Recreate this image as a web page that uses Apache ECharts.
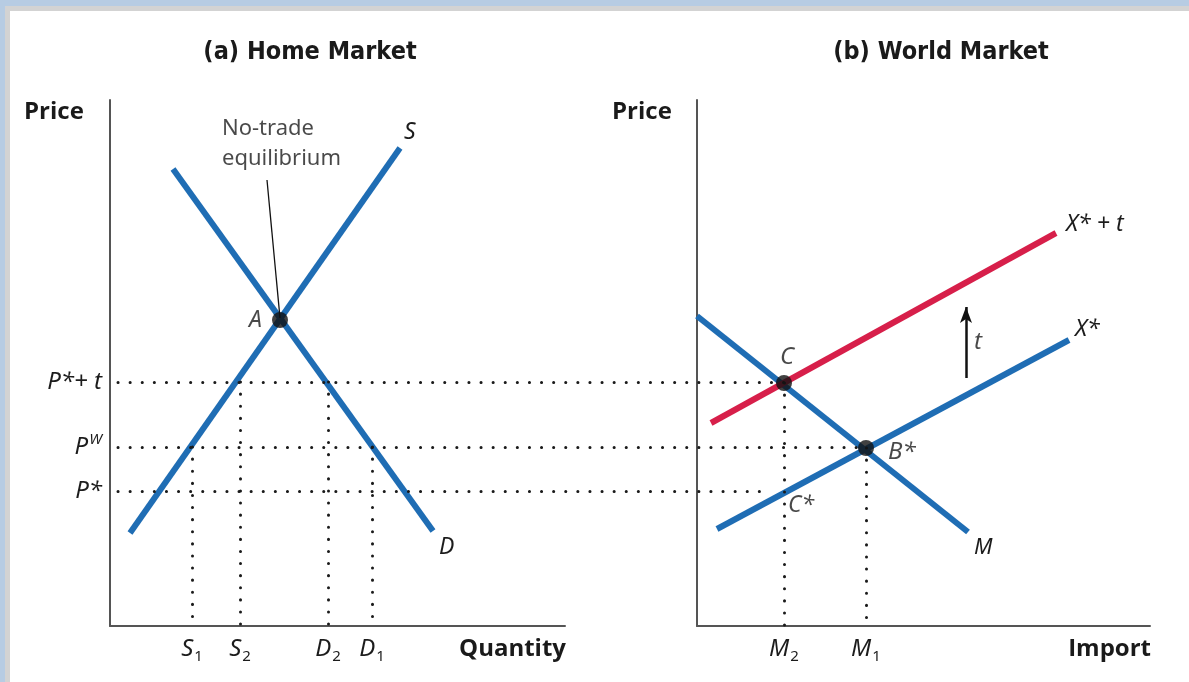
<!DOCTYPE html>
<html><head><meta charset="utf-8">
<script src="https://cdn.jsdelivr.net/npm/echarts@6/dist/echarts.min.js"></script>
<style>html,body{margin:0;padding:0;background:#fff}#c{width:1189px;height:682px}</style>
</head><body><div id="c"></div><script>
// ---- (a) Home market data (panel units) ----
const supplyS = [[20, 93], [290, 478]];
const demandD = [[63, 457], [323, 95]];
const pointA = [170, 306];
const priceTicks = [135, 179, 244];
const priceTickLabels = ['{i|P*}', '{i|P}{sup|W}', '{i|P*+ t}'];
const homeQtyTicks = [82, 130, 218, 262];
const homeQtyLabels = ['{i|S}{sub|1}', '{i|S}{sub|2}', '{i|D}{sub|2}', '{i|D}{sub|1}'];
const homeQtyTickPrice = [179, 244, 244, 179];
const noTradePointer = [[157, 446], [170, 308]];
// ---- (b) World market data (panel units) ----
const importM = [[0, 310], [271, 94]];
const exportX = [[20, 97], [372, 286]];
const exportXt = [[14, 203], [359, 393]];
const pointC = [87, 243];
const pointB = [169, 178];
const pointCstar = [87, 135];
const worldQtyTicks = [87, 169];
const worldQtyLabels = ['{i|M}{sub|2}', '{i|M}{sub|1}'];
const worldQtyTickPrice = [243, 178];
const tariffArrow = [[269, 248], [269, 319]];
// price guide lines: [price, end x in world panel]
const priceGuides = [[244, 87], [179, 169], [135, 73]];

const BLUE = '#1f6db4', RED = '#d71f4a', INK = '#1a1a1a';
const RIGHT_OFFSET = 587; // world panel origin in overlay units
const GUIDE_START = 8;
const italic = 'Noto Sans';
const TXT = '#1c1c1c';
const rich = {
  i: {fontFamily: italic, fontStyle: 'italic', fontSize: 24, color: TXT, lineHeight: 30},
  sub: {fontFamily: italic, fontSize: 15, color: TXT, verticalAlign: 'bottom', lineHeight: 30, padding: [12, 0, 0, 1]},
  sup: {fontFamily: italic, fontStyle: 'italic', fontSize: 15, color: TXT, verticalAlign: 'top', lineHeight: 30, padding: [0, 0, 12, 1]}
};
const dotted = {color: INK, width: 3, type: [0.1, 12], cap: 'round', opacity: 1};
function mapLabel(ticks, labels) { return v => { const k = ticks.indexOf(v); return k < 0 ? '' : labels[k]; }; }
function segs(pairs) { return pairs.map(p => [{coord: p[0]}, {coord: p[1]}]); }
const lab = (fs, extra) => Object.assign({fontFamily: italic, fontStyle: 'italic', fontSize: fs || 23, color: TXT}, extra || {});

const axisLine = {show: true, lineStyle: {color: '#555', width: 2}};
const chart = echarts.init(document.getElementById('c'));
chart.setOption({
  animation: false,
  grid: [
    {left: 110, top: 100, width: 455, height: 526},
    {left: 697, top: 100, width: 453, height: 526},
    {left: 110, top: 100, width: 1040, height: 526}
  ],
  xAxis: [
    {gridIndex: 0, type: 'value', min: 0, max: 455, axisLine, axisTick: {show: false}, splitLine: {show: false},
     axisLabel: {customValues: homeQtyTicks, formatter: mapLabel(homeQtyTicks, homeQtyLabels), rich, margin: 8}},
    {gridIndex: 1, type: 'value', min: 0, max: 453, axisLine, axisTick: {show: false}, splitLine: {show: false},
     axisLabel: {customValues: worldQtyTicks, formatter: mapLabel(worldQtyTicks, worldQtyLabels), rich, margin: 8}},
    {gridIndex: 2, type: 'value', min: 0, max: 1040, show: false}
  ],
  yAxis: [
    {gridIndex: 0, type: 'value', min: 0, max: 526, axisLine, axisTick: {show: false}, splitLine: {show: false},
     axisLabel: {customValues: priceTicks, formatter: mapLabel(priceTicks, priceTickLabels), rich, margin: 8}},
    {gridIndex: 1, type: 'value', min: 0, max: 526, axisLine, axisTick: {show: false}, splitLine: {show: false}, axisLabel: {show: false}},
    {gridIndex: 2, type: 'value', min: 0, max: 526, show: false}
  ],
  graphic: [
    {type: 'rect', z: -10, silent: true, shape: {x: 0, y: 0, width: 1189, height: 682}, style: {fill: '#b7cce3'}},
    {type: 'rect', z: -9, silent: true, shape: {x: 5, y: 6, width: 1184, height: 676}, style: {fill: '#d3d3d3'}},
    {type: 'rect', z: -8, silent: true, shape: {x: 10, y: 11, width: 1179, height: 671}, style: {fill: '#fff'}},
    {type: 'text', x: 310, y: 52, style: {text: '(a) Home Market', font: 'bold 25px "DejaVu Sans Condensed"', fill: '#1a1a1a', textAlign: 'center', textVerticalAlign: 'middle'}},
    {type: 'text', x: 941, y: 52, style: {text: '(b) World Market', font: 'bold 25px "DejaVu Sans Condensed"', fill: '#1a1a1a', textAlign: 'center', textVerticalAlign: 'middle'}},
    {type: 'text', x: 24, y: 112, style: {text: 'Price', font: 'bold 24px "Open Sans"', fill: '#1a1a1a', textVerticalAlign: 'middle'}},
    {type: 'text', x: 612, y: 112, style: {text: 'Price', font: 'bold 24px "Open Sans"', fill: '#1a1a1a', textVerticalAlign: 'middle'}},
    {type: 'text', x: 566, y: 649, style: {text: 'Quantity', font: 'bold 24px "Open Sans"', fill: '#1a1a1a', textAlign: 'right', textVerticalAlign: 'middle'}},
    {type: 'text', x: 1151, y: 649, style: {text: 'Import', font: 'bold 24px "Open Sans"', fill: '#1a1a1a', textAlign: 'right', textVerticalAlign: 'middle'}}
  ],
  series: [
    // overlay price guides
    {type: 'line', xAxisIndex: 2, yAxisIndex: 2, data: [], z: 1,
     markLine: {silent: true, symbol: 'none', label: {show: false}, lineStyle: dotted,
       data: segs(priceGuides.map(g => [[GUIDE_START, g[0]], [g[1] + RIGHT_OFFSET, g[0]]]))}},
    // home verticals
    {type: 'line', xAxisIndex: 0, yAxisIndex: 0, data: [], z: 1,
     markLine: {silent: true, symbol: 'none', label: {show: false}, lineStyle: dotted,
       data: segs(homeQtyTicks.map((q, k) => [[q, homeQtyTickPrice[k]], [q, 0]]))}},
    // world verticals
    {type: 'line', xAxisIndex: 1, yAxisIndex: 1, data: [], z: 1,
     markLine: {silent: true, symbol: 'none', label: {show: false}, lineStyle: dotted,
       data: segs(worldQtyTicks.map((q, k) => [[q, worldQtyTickPrice[k]], [q, 0]]))}},
    // supply S
    {type: 'line', xAxisIndex: 0, yAxisIndex: 0, data: supplyS, symbol: 'none', z: 3,
     lineStyle: {color: BLUE, width: 6}, endLabel: {show: true, formatter: 'S', offset: [-4, -16], ...lab(23)}},
    // demand D
    {type: 'line', xAxisIndex: 0, yAxisIndex: 0, data: demandD, symbol: 'none', z: 3,
     lineStyle: {color: BLUE, width: 6}, endLabel: {show: true, formatter: 'D', offset: [-2, 16], ...lab(23)}},
    // no-trade pointer
    {type: 'line', xAxisIndex: 0, yAxisIndex: 0, data: [], z: 4,
     markLine: {silent: true, symbol: 'none', label: {show: false}, lineStyle: {color: '#111', width: 1.3, type: 'solid'},
       data: segs([noTradePointer])}},
    {type: 'scatter', xAxisIndex: 0, yAxisIndex: 0, data: [noTradePointer[0]], symbolSize: 0, z: 4,
     label: {show: true, position: 'top', distance: 6, formatter: 'No-trade\nequilibrium', fontFamily: 'Noto Sans', fontSize: 22, lineHeight: 30, color: TXT, offset: [-45, 0], align: 'left'}},
    // point A
    {type: 'scatter', xAxisIndex: 0, yAxisIndex: 0, data: [pointA], symbolSize: 16, itemStyle: {color: '#111'}, z: 5,
     label: {show: true, position: 'left', distance: 10, formatter: 'A', ...lab(23)}},
    // world M
    {type: 'line', xAxisIndex: 1, yAxisIndex: 1, data: importM, symbol: 'none', z: 3,
     lineStyle: {color: BLUE, width: 6}, endLabel: {show: true, formatter: 'M', offset: [-2, 16], ...lab(22)}},
    // world X*
    {type: 'line', xAxisIndex: 1, yAxisIndex: 1, data: exportX, symbol: 'none', z: 3,
     lineStyle: {color: BLUE, width: 6}, endLabel: {show: true, formatter: 'X*', offset: [-2, -11], ...lab(23)}},
    // world X*+t
    {type: 'line', xAxisIndex: 1, yAxisIndex: 1, data: exportXt, symbol: 'none', z: 3,
     lineStyle: {color: RED, width: 6}, endLabel: {show: true, formatter: 'X* + t', offset: [2, -9], ...lab(23)}},
    // tariff arrow
    {type: 'line', xAxisIndex: 1, yAxisIndex: 1, data: [], z: 4,
     markLine: {silent: true, symbol: ['none', 'arrow'], symbolSize: [9, 16], label: {show: false},
       lineStyle: {color: '#111', width: 2.5, type: 'solid'}, data: segs([tariffArrow])}},
    {type: 'scatter', xAxisIndex: 1, yAxisIndex: 1, data: [[tariffArrow[0][0], (tariffArrow[0][1] + tariffArrow[1][1]) / 2]], symbolSize: 0, z: 4,
     label: {show: true, position: 'right', distance: 8, formatter: 't', ...lab(24)}},
    // points C, B*
    {type: 'scatter', xAxisIndex: 1, yAxisIndex: 1, data: [pointC], symbolSize: 16, itemStyle: {color: '#111'}, z: 5,
     label: {show: true, position: 'top', distance: 6, offset: [3, 0], formatter: 'C', ...lab(24)}},
    {type: 'scatter', xAxisIndex: 1, yAxisIndex: 1, data: [pointB], symbolSize: 16, itemStyle: {color: '#111'}, z: 5,
     label: {show: true, position: 'right', distance: 14, offset: [0, 4], formatter: 'B*', ...lab(24)}},
    {type: 'scatter', xAxisIndex: 1, yAxisIndex: 1, data: [pointCstar], symbolSize: 0, z: 5,
     label: {show: true, position: 'right', distance: 4, offset: [0, 14], formatter: 'C*', ...lab(23)}}
  ]
});
</script></body></html>
